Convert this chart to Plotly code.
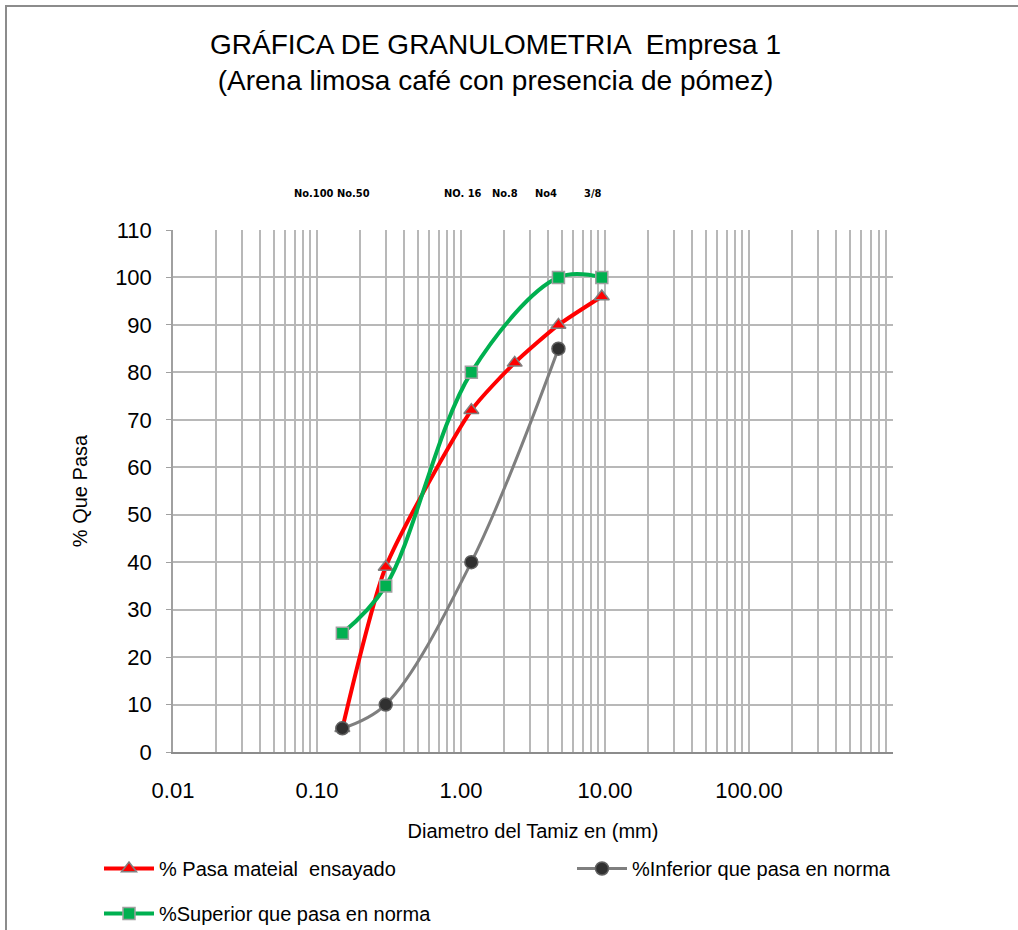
import plotly.graph_objects as go

# Sieve openings (mm) and percentages passing
sieve_mm = [0.15, 0.30, 1.18, 2.36, 4.75, 9.50]
pasa_ensayado = [5, 39, 72, 82, 90, 96]

inf_mm = [0.15, 0.30, 1.18, 4.75]
inferior_norma = [5, 10, 40, 85]

sup_mm = [0.15, 0.30, 1.18, 4.75, 9.50]
superior_norma = [25, 35, 80, 100, 100]

sieve_names = ["No.100", "No.50", "NO. 16", "No.8", "No4", "3/8"]

x_tick_vals = [0.01, 0.1, 1, 10, 100]
x_tick_text = ["0.01", "0.10", "1.00", "10.00", "100.00"]

W, H = 1018, 930
L, R, T, B = 173, 893, 230, 752  # plot area in pixels


def px(x):
    return (x - L) / (R - L)


def py(y):
    return (B - y) / (B - T)


# log grid: every 1..9 multiple in each decade, labels only on decades
grid_vals, grid_text = [], []
for e in range(-2, 3):
    for m in range(1, 10):
        v = m * 10 ** e
        grid_vals.append(v)
        grid_text.append(x_tick_text[x_tick_vals.index(v)] if v in x_tick_vals else "")
grid_vals.append(1000)
grid_text.append("")

fig = go.Figure()

fig.add_trace(go.Scatter(
    x=sieve_mm, y=pasa_ensayado, name="% Pasa mateial  ensayado",
    mode="lines+markers", legend="legend", legendgroup="a",
    line=dict(color="#ff0000", width=4, shape="spline", smoothing=0.6),
    marker=dict(symbol="triangle-up", size=13, color="#ff0000",
                line=dict(color="#808080", width=1.5)),
))
fig.add_trace(go.Scatter(
    x=inf_mm, y=inferior_norma, name="%Inferior que pasa en norma",
    mode="lines+markers", legend="legend2", legendgroup="b",
    line=dict(color="#7f7f7f", width=3, shape="spline", smoothing=1),
    marker=dict(symbol="circle", size=13, color="#303030",
                line=dict(color="#606060", width=1.5)),
))
fig.add_trace(go.Scatter(
    x=sup_mm, y=superior_norma, name="%Superior que pasa en norma",
    mode="lines+markers", legend="legend", legendgroup="c",
    line=dict(color="#00b050", width=4, shape="spline", smoothing=1),
    marker=dict(symbol="square", size=12, color="#00b050",
                line=dict(color="#a0a0a0", width=1.5)),
))

annotations = [
    dict(text="GRÁFICA DE GRANULOMETRIA  Empresa 1<br>(Arena limosa café con presencia de pómez)",
         xref="paper", yref="paper", x=px(495), y=py(63), showarrow=False,
         font=dict(family="Liberation Sans, Arial", size=28, color="black"),
         xanchor="center", yanchor="middle"),
]
label_px = [314, 353, 463, 505, 546, 593]
for name, xp in zip(sieve_names, label_px):
    annotations.append(dict(
        text="<b>" + name + "</b>", xref="paper", yref="paper", x=px(xp), y=py(193),
        showarrow=False, xanchor="center", yanchor="middle",
        font=dict(family="DejaVu Sans Condensed, DejaVu Sans", size=11, color="black")))

shapes = [
    # darker reference line at 1 mm
    dict(type="line", xref="x", yref="paper", x0=1, x1=1, y0=0, y1=1,
         line=dict(color="#808080", width=1.5), layer="below"),
    # outer frame
    dict(type="rect", xref="paper", yref="paper",
         x0=px(6), x1=px(1040), y0=py(6), y1=py(960),
         line=dict(color="#8c8c8c", width=2)),
]

legend_common = dict(orientation="v", xanchor="left", yanchor="top",
                     font=dict(size=20), itemwidth=50, tracegroupgap=16,
                     bgcolor="rgba(0,0,0,0)")

fig.update_layout(
    width=W, height=H,
    margin=dict(l=L, r=W - R, t=T, b=H - B, autoexpand=False),
    paper_bgcolor="white", plot_bgcolor="white",
    font=dict(family="Liberation Sans, Arial", color="black"),
    showlegend=True,
    legend=dict(x=px(99), y=py(849), **legend_common),
    legend2=dict(x=px(572), y=py(849), **legend_common),
    annotations=annotations,
    shapes=shapes,
)

fig.update_xaxes(
    type="log", range=[-2, 3],
    tickmode="array", tickvals=grid_vals, ticktext=grid_text,
    showgrid=True, gridcolor="#b8b8b8", gridwidth=1.5,
    showline=True, linecolor="#8c8c8c", linewidth=2,
    ticks="", ticklabelstandoff=18,
    tickfont=dict(size=22),
    title=dict(text="Diametro del Tamiz en (mm)", font=dict(size=20), standoff=22),
    zeroline=False, mirror=False,
)
fig.update_yaxes(
    range=[0, 110], dtick=10, tick0=0,
    showgrid=True, gridcolor="#b8b8b8", gridwidth=1.5,
    showline=True, linecolor="#a0a0a0", linewidth=1.5,
    ticks="outside", ticklen=5, tickcolor="#a0a0a0", ticklabelstandoff=10,
    tickfont=dict(size=22),
    title=dict(text="% Que Pasa", font=dict(size=20), standoff=22),
    zeroline=False,
)

fig.write_html("out.html")
